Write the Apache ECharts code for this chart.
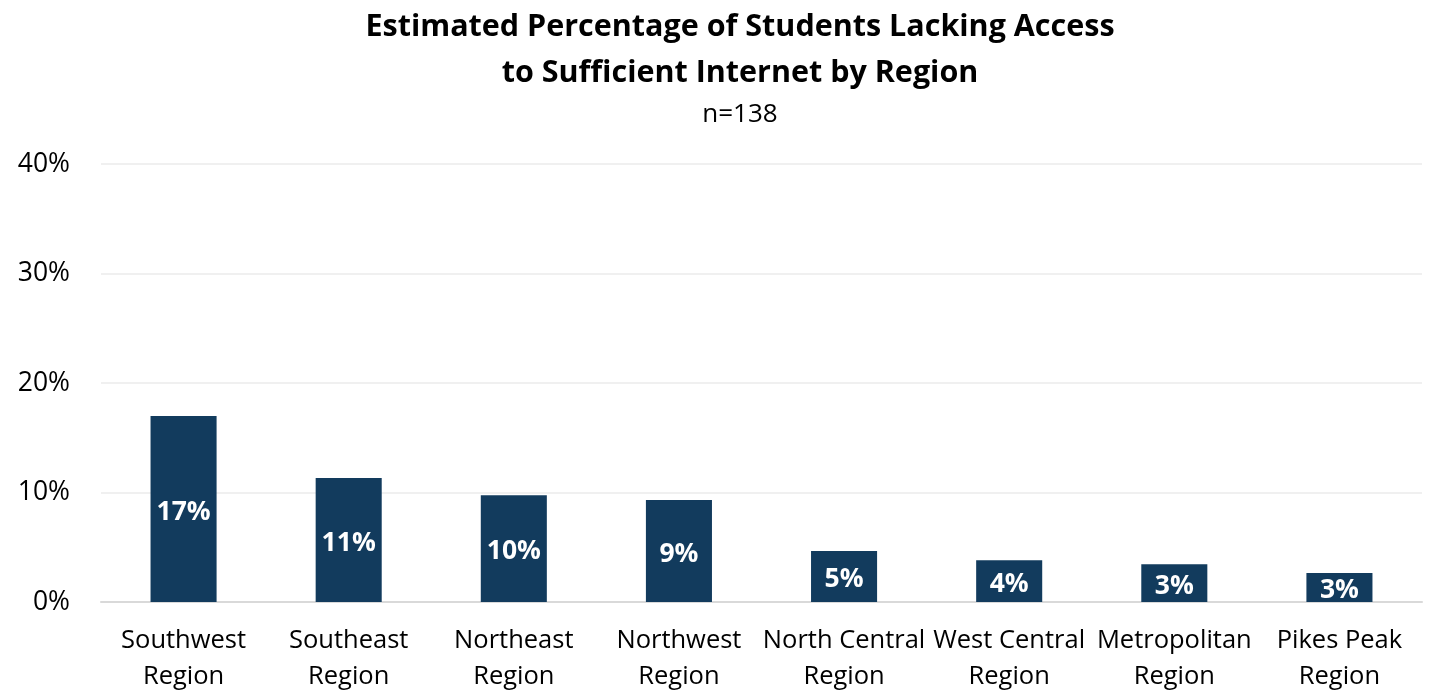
<!DOCTYPE html>
<html>
<head>
<meta charset="utf-8">
<script src="https://cdn.jsdelivr.net/npm/echarts@6/dist/echarts.min.js"></script>
<style>
  html, body { margin: 0; padding: 0; background: #ffffff; }
  #chart { width: 1433px; height: 690px; }
</style>
</head>
<body>
<div id="chart"></div>
<script>
// Regions surveyed (x-axis categories)
const regions = [
  'Southwest\nRegion', 'Southeast\nRegion', 'Northeast\nRegion', 'Northwest\nRegion',
  'North Central\nRegion', 'West Central\nRegion', 'Metropolitan\nRegion', 'Pikes Peak\nRegion'
];
// Estimated share of students lacking sufficient internet, in percent
const lackingAccess = [16.99, 11.32, 9.74, 9.32, 4.66, 3.81, 3.44, 2.65];
// Value-axis ticks, in percent
const yTicks = [0, 10, 20, 30, 40];

const titleText = 'Estimated Percentage of Students Lacking Access\nto Sufficient Internet by Region';
const subtitleText = 'n=138';

const FONT = '"Open Sans", Lato, sans-serif';

const chart = echarts.init(document.getElementById('chart'));
chart.setOption({
  animation: false,
  backgroundColor: '#ffffff',
  title: [
    {
      text: titleText,
      left: 735,
      top: -1,
      textAlign: 'center',
      textStyle: {
        fontFamily: FONT,
        fontSize: 30.5,
        fontWeight: 'bold',
        color: '#000000',
        lineHeight: 46
      }
    },
    {
      text: subtitleText,
      left: 735,
      top: 97,
      textAlign: 'center',
      textStyle: {
        fontFamily: FONT,
        fontSize: 26,
        fontWeight: 'normal',
        color: '#000000'
      }
    }
  ],
  grid: {
    left: 101,
    right: 11,
    top: 164,
    bottom: 88,
    containLabel: false,
    outerBoundsMode: 'none'
  },
  xAxis: {
    type: 'category',
    data: regions,
    axisTick: { show: false },
    axisLine: { show: true, lineStyle: { color: '#d9d9d9', width: 2 } },
    axisLabel: {
      interval: 0,
      margin: 21,
      fontFamily: FONT,
      fontSize: 25.5,
      color: '#000000',
      lineHeight: 36
    }
  },
  yAxis: {
    type: 'value',
    min: yTicks[0],
    max: yTicks[yTicks.length - 1],
    interval: yTicks[1] - yTicks[0],
    axisLine: { show: false },
    axisTick: { show: false },
    splitLine: { show: true, lineStyle: { color: '#ebebeb', width: 1.5 } },
    axisLabel: {
      margin: 31,
      fontFamily: FONT,
      fontSize: 26.5,
      color: '#000000',
      formatter: v => v + '%'
    }
  },
  series: [
    {
      type: 'bar',
      data: lackingAccess,
      barWidth: '40%',
      itemStyle: { color: '#123b5d' },
      label: {
        show: true,
        position: 'inside',
        offset: [0, 3],
        fontFamily: FONT,
        fontSize: 26.5,
        fontWeight: 'bold',
        color: '#ffffff',
        formatter: p => Math.round(p.value) + '%'
      }
    }
  ]
});
</script>
</body>
</html>
